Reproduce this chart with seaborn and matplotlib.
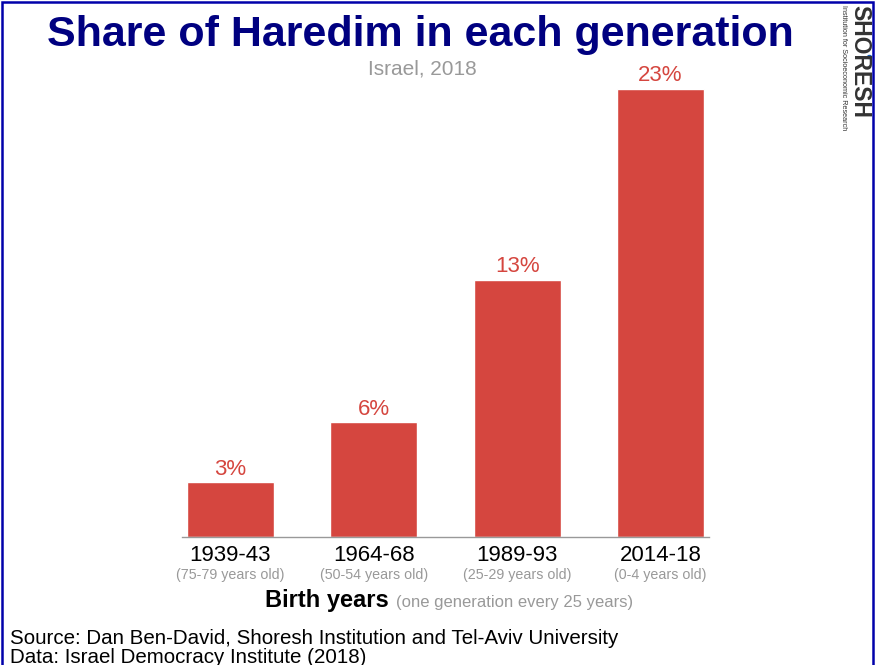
import matplotlib.pyplot as plt
import matplotlib.patches as patches
from matplotlib.transforms import blended_transform_factory
import seaborn as sns
import pandas as pd

# birth cohorts and share of Haredim (%)
cohorts = ['1939-43', '1964-68', '1989-93', '2014-18']
ages = ['(75-79 years old)', '(50-54 years old)', '(25-29 years old)', '(0-4 years old)']
share = [2.8, 5.9, 13.2, 23.0]
share_labels = ['3%', '6%', '13%', '23%']

df = pd.DataFrame({'cohort': cohorts, 'share': share})

sns.set_style('white')
plt.rcParams['font.family'] = ['Liberation Sans', 'DejaVu Sans']

W, H = 880, 665
fig = plt.figure(figsize=(W / 100, H / 100), dpi=100)
ax = fig.add_axes([182 / W, 128 / H, 527 / W, 487.5 / H])

red = '#d5463f'
sns.barplot(data=df, x='cohort', y='share', color=red, width=0.607,
            saturation=1, ax=ax)
ax.set_xlim(-0.338, 3.338)
ax.set_ylim(0, 25)

for i, b in enumerate(ax.patches):
    ax.text(b.get_x() + b.get_width() / 2, b.get_height() + 0.12, share_labels[i],
            ha='center', va='bottom', color=red, fontsize=16)

for s in ['top', 'right', 'left']:
    ax.spines[s].set_visible(False)
ax.spines['bottom'].set_color('#999999')
ax.spines['bottom'].set_linewidth(1)
ax.set_yticks([])
ax.set_ylabel('')
ax.set_xlabel('')
ax.tick_params(axis='x', length=0, pad=6, labelsize=16, labelcolor='black')

trans = blended_transform_factory(ax.transData, ax.transAxes)
for i, a in enumerate(ages):
    ax.text(i, -38 / 487.5, a, transform=trans, ha='center', va='center',
            fontsize=10.3, color='#999999')

def fy(y):
    return 1 - y / H

fig.text(389 / W, fy(600), 'Birth years', ha='right', va='center',
         fontsize=17, fontweight='bold', color='black')
fig.text(396 / W, fy(602), '(one generation every 25 years)', ha='left', va='center',
         fontsize=12, color='#999999')

fig.text(420 / W, fy(46), 'Share of Haredim in each generation', ha='center',
         va='baseline', fontsize=31, fontweight='bold', color='#000080')
fig.text(422 / W, fy(69), 'Israel, 2018', ha='center', va='center',
         fontsize=15, color='#999999')

fig.text(10 / W, fy(644), 'Source: Dan Ben-David, Shoresh Institution and Tel-Aviv University',
         ha='left', va='baseline', fontsize=14.8, color='black')
fig.text(10 / W, fy(663), 'Data: Israel Democracy Institute (2018)',
         ha='left', va='baseline', fontsize=14.8, color='black')

# logo
fig.text(860 / W, fy(5), 'SHORESH', rotation=-90, ha='center', va='top',
         fontsize=16.5, fontweight='bold', color='#333333')
fig.text(843.5 / W, fy(5), 'Institution for Socioeconomic Research', rotation=-90,
         ha='center', va='top', fontsize=5.2, color='#333333')
fig.patches.append(patches.Circle((869.5 / W, fy(57)), 2 / W, transform=fig.transFigure,
                                  color='#1a5fb4', figure=fig))

# frame
fig.patches.append(patches.Rectangle((2 / W, -0.05), 871 / W, fy(2) + 0.05,
                                     transform=fig.transFigure, fill=False,
                                     edgecolor='#0000aa', linewidth=1.8, figure=fig))

fig.savefig('out.png', dpi=100)
